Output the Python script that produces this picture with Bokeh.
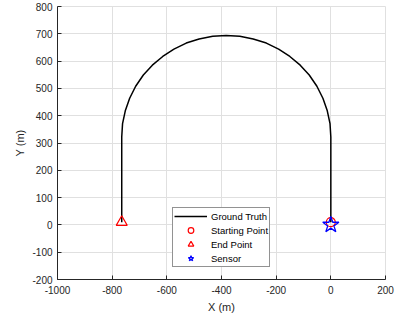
from bokeh.plotting import figure
from bokeh.models import Range1d, FixedTicker, Legend, LegendItem
from bokeh.embed import file_html
from bokeh.resources import INLINE

traj_x = [0, 0, -3, -13, -29, -51, -79, -112, -150, -191, -236, -284, -333, -383,
          -432, -482, -529, -574, -615, -653, -686, -714, -736, -752, -762, -765, -765]
traj_y = [10, 322, 371, 418, 464, 508, 549, 585, 617, 644, 666, 681, 691, 694,
          691, 681, 666, 644, 617, 585, 549, 508, 464, 418, 371, 322, 10]

start_x = [0]
start_y = [10]
end_x = [-765]
end_y = [10]
sensor_x = [0]
sensor_y = [0]

x_ticks = [-1000, -800, -600, -400, -200, 0, 200]
x_tick_labels = ["-1000", "-800", "-600", "-400", "-200", "0", "200"]
y_ticks = [-200, -100, 0, 100, 200, 300, 400, 500, 600, 700, 800]
y_tick_labels = ["-200", "-100", "0", "100", "200", "300", "400", "500", "600", "700", "800"]

FONT = "Liberation Sans"
DARK = "#262626"
GRID = "#e0e0e0"

p = figure(width=396, height=318,
           x_range=Range1d(-1000, 200), y_range=Range1d(-200, 800),
           output_backend="svg", toolbar_location=None,
           min_border_left=57, min_border_right=11,
           min_border_top=6, min_border_bottom=39)

p.background_fill_color = "white"
p.border_fill_color = "white"
p.outline_line_color = GRID

for ax, ticks, labels in ((p.xaxis, x_ticks, x_tick_labels), (p.yaxis, y_ticks, y_tick_labels)):
    ax.ticker = FixedTicker(ticks=ticks)
    ax.major_label_overrides = {t: s for t, s in zip(ticks, labels)}
    ax.minor_tick_line_color = None
    ax.major_tick_in = 4
    ax.major_tick_out = 0
    ax.axis_line_color = DARK
    ax.major_tick_line_color = DARK
    ax.major_label_text_font = FONT
    ax.major_label_text_font_size = "10px"
    ax.major_label_text_color = DARK
    ax.axis_label_text_font = FONT
    ax.axis_label_text_font_size = "11px"
    ax.axis_label_text_font_style = "normal"
    ax.axis_label_text_color = DARK

p.xaxis.axis_label = "X (m)"
p.yaxis.axis_label = "Y (m)"
p.xaxis.major_label_standoff = 6
p.xaxis.axis_label_standoff = 4
p.yaxis.major_label_standoff = 5
p.yaxis.axis_label_standoff = 3

p.xgrid.ticker = FixedTicker(ticks=x_ticks)
p.ygrid.ticker = FixedTicker(ticks=y_ticks)
p.grid.grid_line_color = GRID
p.grid.grid_line_width = 1

r_line = p.line(traj_x, traj_y, line_color="black", line_width=1.5)
r_start = p.scatter(start_x, start_y, marker="circle", size=9,
                    fill_color=None, line_color="#ff0000", line_width=1.2)
r_end = p.scatter(end_x, end_y, marker="triangle", size=11,
                  fill_color=None, line_color="#ff0000", line_width=1.2)
r_sensor = p.scatter(sensor_x, sensor_y, marker="star", size=17,
                     fill_color=None, line_color="#0000ff", line_width=1.3)

legend = Legend(items=[
    LegendItem(label="Ground Truth", renderers=[r_line]),
    LegendItem(label="Starting Point", renderers=[r_start]),
    LegendItem(label="End Point", renderers=[r_end]),
    LegendItem(label="Sensor", renderers=[r_sensor]),
], location=(115, 12))
legend.label_text_font = FONT
legend.label_text_font_size = "9.5px"
legend.label_text_color = "black"
legend.glyph_width = 33
legend.glyph_height = 14
legend.label_height = 14
legend.spacing = 0
legend.padding = 1
legend.margin = 0
legend.label_standoff = 4
legend.border_line_color = DARK
legend.border_line_width = 1
legend.background_fill_color = "white"
legend.background_fill_alpha = 1
p.add_layout(legend, "center")

open("out.html", "w").write(file_html(p, INLINE))
